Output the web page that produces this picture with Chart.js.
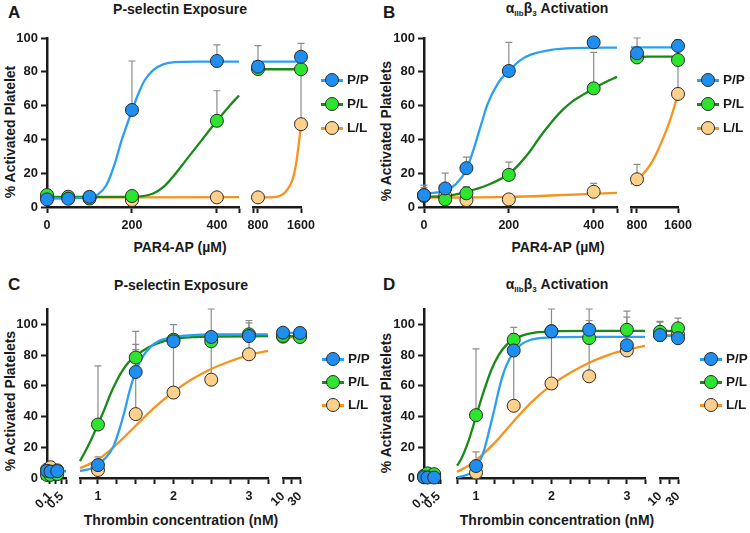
<!DOCTYPE html>
<html>
<head>
<meta charset="utf-8">
<script src="https://cdn.jsdelivr.net/npm/chart.js"></script>
<style>
    body { margin: 0; background: #fff; }
    #wrap { position: relative; width: 750px; height: 533px; overflow: hidden;
            font-family: "Liberation Sans", Arial, sans-serif; font-weight: bold; color: #1a1a1a; }
    #wrap canvas { position: absolute; }
    .txt { position: absolute; white-space: nowrap; }
    .letter { font-size: 17px; }
    .mid { font-size: 14px; transform: translate(-50%, -50%); }
    .yt { font-size: 14px; transform: translate(-50%, -50%) rotate(-90deg); }
    .sub { font-size: 8px; vertical-align: -3px; }
    .leg { position: absolute; width: 60px; height: 14px; font-size: 13.5px; }
    .leg .ln { position: absolute; left: 0; top: 6px; width: 22px; height: 2.5px; }
    .leg .dot { position: absolute; left: 4px; top: 0; width: 12px; height: 12px; border-radius: 50%; border: 1px solid #2b2b2b; }
    .leg .lb { position: absolute; left: 26px; top: -1px; }
</style>
</head>
<body>
<div id="wrap">
    <div class="txt letter" style="left:8px; top:3px;">A</div>
    <div class="txt letter" style="left:383px; top:3px;">B</div>
    <div class="txt letter" style="left:8px; top:275px;">C</div>
    <div class="txt letter" style="left:383px; top:275px;">D</div>

    <div class="txt mid" style="left:180px; top:9px;">P-selectin Exposure</div>
    <div class="txt mid" style="left:557px; top:9px;">α<span class="sub">IIb</span>β<span class="sub">3</span> Activation</div>
    <div class="txt mid" style="left:181px; top:285px;">P-selectin Exposure</div>
    <div class="txt mid" style="left:557px; top:285px;">α<span class="sub">IIb</span>β<span class="sub">3</span> Activation</div>

    <div class="txt mid" style="left:180px; top:247px;">PAR4-AP (µM)</div>
    <div class="txt mid" style="left:558px; top:247px;">PAR4-AP (µM)</div>
    <div class="txt mid" style="left:181px; top:520px;">Thrombin concentration (nM)</div>
    <div class="txt mid" style="left:557px; top:520px;">Thrombin concentration (nM)</div>

    <div class="txt yt" style="left:10px; top:132px;">% Activated Platelet</div>
    <div class="txt yt" style="left:386px; top:131px;">% Activated Platelets</div>
    <div class="txt yt" style="left:10px; top:401px;">% Activated Platelets</div>
    <div class="txt yt" style="left:386px; top:403px;">% Activated Platelets</div>
</div>

<script>
    // ---- data ----
    const genotypes = ['P/P', 'P/L', 'L/L'];
    const yTicks = [0, 20, 40, 60, 80, 100];

    // PAR4-AP doses (µM) and tick labels
    const parDose = [0, 50, 100, 200, 400, 800, 1600];
    const parTicks = [0, 200, 400, 800, 1600];

    // A: P-selectin, PAR4-AP
    const psPP = [4.5, 4.9, 6, 57.4, 86.4, 83, 88.9];
    const psPL = [7.1, 6.1, 5, 6.5, 51, 81.6, 81.5];
    const psLL = [5.5, 5.5, 5.5, 4.1, 5.7, 5.7, 49];
    const psPPup = [null, null, null, 86.4, 95.9, 95.5, 96.8];
    const psPLup = [9.5, null, null, null, 68.8, null, null];
    const psLLup = [null, null, null, null, null, null, 90];
    const psPPfit = [[0,5],[100,5.5],[120,7.5],[140,13],[160,26],[175,39],[190,50],[200,57],[215,67],[230,75],[250,81],[275,84.5],[300,85.7],[350,86],[452,86],[707,86],[1600,86]];
    const psPLfit = [[0,6],[200,6],[250,8],[275,12],[300,19],[325,27],[350,35],[375,43],[400,51],[425,58.5],[452,66],[707,81.5],[1600,81.5]];
    const psLLfit = [[0,5.6],[452,5.8],[800,5.7],[1100,5.9],[1200,6.5],[1300,8.5],[1400,13],[1450,17],[1500,24],[1550,35],[1600,49]];

    // B: aIIbb3, PAR4-AP
    const abPP = [7, 11, 23, 80.5, 97.4, 91, 95.3];
    const abPL = [6.5, 4.5, 8.1, 19, 70.2, 88.5, 87];
    const abLL = [7, 6.5, 4.1, 4.5, 9, 16.4, 66.9];
    const abPPup = [13, 20, 29.5, 97.4, null, 100, 99];
    const abPLup = [11.5, null, 12, 26.5, 91.5, null, null];
    const abLLup = [9, null, null, null, 14, 25.2, 95];
    const abPPfit = [[0,8],[50,9.5],[75,13.5],[100,22],[118,35],[135,49],[150,61],[175,73.5],[200,80.5],[225,86.5],[250,90],[300,93],[350,94],[455,94.3],[683,94.5],[1600,94.5]];
    const abPLfit = [[0,6],[50,6.5],[100,9],[150,13],[200,19.5],[225,25.5],[250,33],[275,42],[300,50],[325,57],[350,62.5],[375,66.5],[400,70],[425,73.5],[455,77],[683,87.5],[800,88.3],[1000,89],[1600,89]];
    const abLLfit = [[0,5.5],[200,6],[300,6.8],[400,7.8],[455,8.4],[683,13.5],[800,16.5],[900,19],[1000,22.5],[1100,27],[1200,33],[1300,40],[1400,47.5],[1500,56.5],[1600,67]];

    // thrombin doses (nM) and tick labels
    const thrDose = [0, 0.12, 0.35, 1, 1.5, 2, 2.5, 3, 10, 30];
    const thrTicks = [0.1, 0.5, 1, 2, 3, 10, 30];
    const thrMinor = [0.3, 1.25, 1.5, 1.75, 2.25, 2.5, 2.75, 20];

    // C: P-selectin, thrombin
    const cPP = [4.7, 4.2, 4.5, 8.4, 69, 89, 91.8, 92.4, 94.6, 94.4];
    const cPL = [2, 2, 2.5, 34.8, 78.4, 90, 89, 93.5, 92.5, 91.8];
    const cLL = [5.5, 7, 5, 5.2, 41.6, 55.6, 64, 80.5, 92, 92.3];
    const cPPup = [null, null, null, 13.8, 87, null, null, 102.5, null, null];
    const cPLup = [null, null, null, 73, 95.5, null, null, null, null, null];
    const cLLup = [null, null, null, 12, 83.6, 99.8, 110, 101, null, null];
    const cPPfit = [[0,4.5],[0.65,4.5],[0.762,4.5],[0.9,6],[1,9],[1.1,13],[1.2,20],[1.28,31],[1.35,43],[1.41,55],[1.5,69.5],[1.6,79.5],[1.7,85.5],[1.8,89],[2,91.8],[2.25,93],[2.5,93.4],[3.252,93.5],[10,94.5],[30,94.5]];
    const cPLfit = [[0,3.5],[0.65,4.5],[0.762,11],[0.85,19],[0.92,26],[1,35],[1.08,44],[1.16,54],[1.24,62.5],[1.32,69.5],[1.4,75],[1.5,79.5],[1.6,83],[1.75,87],[2,90.5],[2.25,91.7],[2.5,92.1],[3.252,92.3],[10,92.3],[30,92.3]];
    const cLLfit = [[0.762,6.3],[1,12],[1.25,22],[1.5,34],[1.75,46],[2,56],[2.25,64.5],[2.5,71],[2.75,76],[3,80],[3.252,82.8],[10,91.5],[30,91.5]];

    // D: aIIbb3, thrombin
    const dPP = [0.5, 0.3, 0.3, 7.8, 83, 95.5, 96.5, 86.4, 93, 91];
    const dPL = [1.5, 3, 2.5, 40.9, 90, 95.5, 91.1, 96.5, 95.2, 97.4];
    const dLL = [0.5, 1, 1, 3.5, 47, 61.5, 66.2, 83, 93, 93.5];
    const dPPup = [null, null, null, 17, null, null, 102.5, 104.7, 101.5, 100];
    const dPLup = [null, null, null, 84, 98, null, null, 108.6, 102, 104];
    const dLLup = [null, null, null, null, 94, 110, 110, null, null, null];
    const dPPfit = [[0,0.5],[0.55,0.5],[0.748,0.5],[0.85,1.5],[0.95,4],[1,7],[1.05,11],[1.1,17],[1.15,26],[1.2,36],[1.25,46],[1.3,57],[1.35,66],[1.4,73],[1.5,82],[1.6,87],[1.7,89.5],[1.8,90.7],[2,91.5],[2.5,91.8],[3.24,91.8],[10,92.5],[30,92.5]];
    const dPLfit = [[0,2],[0.55,2],[0.748,8],[0.8,12],[0.9,24],[1,40],[1.1,56],[1.2,70],[1.3,80],[1.4,86.5],[1.5,90],[1.6,92.5],[1.8,94.8],[2,95.4],[2.5,95.7],[3.24,95.7],[10,95.7],[30,95.7]];
    const dLLfit = [[0.748,4],[0.9,8],[1,11.5],[1.25,23],[1.5,37],[1.75,50],[2,60.5],[2.25,68.5],[2.5,75],[2.75,80],[3,83.5],[3.24,86],[10,93],[30,93]];

    // ---- styles / layout ----
    const COL = {
        PP: { fill: '#1e8ef0', line: '#2a9ff5' },
        PL: { fill: '#2ee52e', line: '#178a17' },
        LL: { fill: '#fdd08b', line: '#f7931c' }
    };
    const INK = '#1a1a1a';
    const PAD_T = 20, PAD_R = 25, PAD_L = 25, X_H = 45;
    const rowTop = { top: 38, bottom: 207, yMax: 100 };
    const rowBot = { top: 308.6, bottom: 478, yMax: 110 };

    const panels = [
        { row: rowTop, dose: parDose, ticks: parTicks, minor: [],
          segs: [ { left: 47, right: 239, xmin: 0, xmax: 452, withY: true, yLeft: 0, rot: 0 },
                  { left: 253, right: 301, xmin: 707, xmax: 1600, rot: 0 } ],
          series: [ { c: COL.PP, y: psPP, up: psPPup, fit: psPPfit },
                    { c: COL.PL, y: psPL, up: psPLup, fit: psPLfit },
                    { c: COL.LL, y: psLL, up: psLLup, fit: psLLfit } ],
          legend: { x: 321, y: [80, 104, 128] } },
        { row: rowTop, dose: parDose, ticks: parTicks, minor: [],
          segs: [ { left: 424, right: 617, xmin: 0, xmax: 455, withY: true, yLeft: 375, rot: 0 },
                  { left: 631, right: 678, xmin: 683, xmax: 1600, rot: 0 } ],
          series: [ { c: COL.PP, y: abPP, up: abPPup, fit: abPPfit },
                    { c: COL.PL, y: abPL, up: abPLup, fit: abPLfit },
                    { c: COL.LL, y: abLL, up: abLLup, fit: abLLfit } ],
          legend: { x: 697, y: [80, 104, 128] } },
        { row: rowBot, dose: thrDose, ticks: thrTicks, minor: thrMinor,
          segs: [ { left: 47, right: 66, xmin: 0, xmax: 0.65, withY: true, yLeft: 0, rot: 45 },
                  { left: 80, right: 268, xmin: 0.762, xmax: 3.252, rot: 0 },
                  { left: 283, right: 300, xmin: 10, xmax: 30, rot: 45 } ],
          series: [ { c: COL.PP, y: cPP, up: cPPup, fit: cPPfit },
                    { c: COL.PL, y: cPL, up: cPLup, fit: cPLfit },
                    { c: COL.LL, y: cLL, up: cLLup, fit: cLLfit } ],
          legend: { x: 322, y: [359, 382, 405] } },
        { row: rowBot, dose: thrDose, ticks: thrTicks, minor: thrMinor,
          segs: [ { left: 424, right: 440, xmin: 0, xmax: 0.55, withY: true, yLeft: 375, rot: 45 },
                  { left: 457, right: 645, xmin: 0.748, xmax: 3.24, rot: 0 },
                  { left: 660, right: 678, xmin: 10, xmax: 30, rot: 45 } ],
          series: [ { c: COL.PP, y: dPP, up: dPPup, fit: dPPfit },
                    { c: COL.PL, y: dPL, up: dPLup, fit: dPLfit },
                    { c: COL.LL, y: dLL, up: dLLup, fit: dLLfit } ],
          legend: { x: 700, y: [359, 382, 405] } }
    ];

    Chart.defaults.font.family = '"Liberation Sans", Arial, sans-serif';
    Chart.defaults.font.weight = 'bold';
    Chart.defaults.color = INK;

    // upper error bars, drawn under the curves and points
    const errorBars = {
        id: 'errorBars',
        beforeDatasetsDraw(chart) {
            const { ctx, scales: { x, y } } = chart;
            ctx.save();
            ctx.strokeStyle = '#8c8c8c';
            ctx.lineWidth = 1.2;
            chart.data.datasets.forEach(ds => {
                if (!ds.isPoints) return;
                ds.data.forEach(p => {
                    if (p.e == null) return;
                    const px = x.getPixelForValue(p.x);
                    const y0 = y.getPixelForValue(p.y);
                    const y1 = y.getPixelForValue(p.e);
                    ctx.beginPath();
                    ctx.moveTo(px, y0); ctx.lineTo(px, y1);
                    ctx.moveTo(px - 3.5, y1); ctx.lineTo(px + 3.5, y1);
                    ctx.stroke();
                });
            });
            ctx.restore();
        }
    };

    const wrap = document.getElementById('wrap');

    function drawSegment(p, s) {
        const yW = s.withY ? s.left - s.yLeft : PAD_L;
        const cv = document.createElement('canvas');
        cv.width = yW + (s.right - s.left) + PAD_R;
        cv.height = PAD_T + (p.row.bottom - p.row.top) + X_H;
        cv.style.left = (s.left - yW) + 'px';
        cv.style.top = (p.row.top - PAD_T) + 'px';
        wrap.appendChild(cv);

        const inRange = v => v >= s.xmin - 1e-6 && v <= s.xmax + 1e-6;
        const isLabel = v => p.ticks.some(t => Math.abs(t - v) < 1e-9);

        const ptSets = p.series.map(sr => ({
            isPoints: true,
            data: p.dose.map((x, i) => ({ x: x, y: sr.y[i], e: sr.up[i] }))
                        .filter(d => inRange(d.x) && d.y != null),
            showLine: false,
            pointRadius: 6.5, pointHoverRadius: 6.5,
            pointBackgroundColor: sr.c.fill,
            pointBorderColor: '#2b2b2b', pointBorderWidth: 1,
            clip: false
        }));
        const fitSets = p.series.map(sr => ({
            data: sr.fit.filter(d => inRange(d[0])).map(d => ({ x: d[0], y: d[1] })),
            showLine: true, pointRadius: 0, pointHoverRadius: 0,
            borderColor: sr.c.line, borderWidth: 2.3,
            cubicInterpolationMode: 'monotone', clip: false
        }));

        const edges = s.withY ? [s.xmax] : [s.xmin, s.xmax];
        const tickVals = [...new Set([...p.ticks, ...p.minor, ...edges])]
            .filter(inRange).sort((a, b) => a - b);

        new Chart(cv, {
            type: 'scatter',
            data: { datasets: [...ptSets, ...fitSets] },
            options: {
                responsive: false,
                animation: false,
                devicePixelRatio: 1,
                layout: { padding: { top: PAD_T, right: PAD_R, bottom: 0, left: s.withY ? 0 : PAD_L } },
                plugins: { legend: { display: false }, tooltip: { enabled: false } },
                scales: {
                    x: {
                        type: 'linear', min: s.xmin, max: s.xmax,
                        afterBuildTicks: sc => { sc.ticks = tickVals.map(v => ({ value: v })); },
                        afterFit: sc => { sc.height = X_H; },
                        ticks: {
                            autoSkip: false, minRotation: s.rot, maxRotation: s.rot, padding: 5,
                            font: { size: 12.5, weight: 'bold' }, color: INK,
                            callback: v => isLabel(v) ? String(v) : ''
                        },
                        grid: { drawOnChartArea: false, drawTicks: true, tickLength: 6, color: INK, tickWidth: 2 },
                        border: { display: true, color: INK, width: 2.5 }
                    },
                    y: {
                        type: 'linear', min: 0, max: p.row.yMax, display: !!s.withY,
                        afterBuildTicks: sc => { sc.ticks = yTicks.map(v => ({ value: v })); },
                        afterFit: s.withY ? (sc => { sc.width = yW; }) : undefined,
                        ticks: { padding: 3, font: { size: 13, weight: 'bold' }, color: INK },
                        grid: { drawOnChartArea: false, drawTicks: true, tickLength: 6, color: INK, tickWidth: 2 },
                        border: { display: true, color: INK, width: 2.5 }
                    }
                }
            },
            plugins: [errorBars]
        });
    }

    function drawLegend(p) {
        p.series.forEach((sr, i) => {
            const row = document.createElement('div');
            row.className = 'leg';
            row.style.left = p.legend.x + 'px';
            row.style.top = (p.legend.y[i] - 7) + 'px';
            row.innerHTML = '<div class="ln" style="background:' + sr.c.line + '"></div>' +
                            '<div class="dot" style="background:' + sr.c.fill + '"></div>' +
                            '<div class="lb">' + genotypes[i] + '</div>';
            wrap.appendChild(row);
        });
    }

    panels.forEach(p => {
        p.segs.forEach(s => drawSegment(p, s));
        drawLegend(p);
    });
</script>
</body>
</html>
